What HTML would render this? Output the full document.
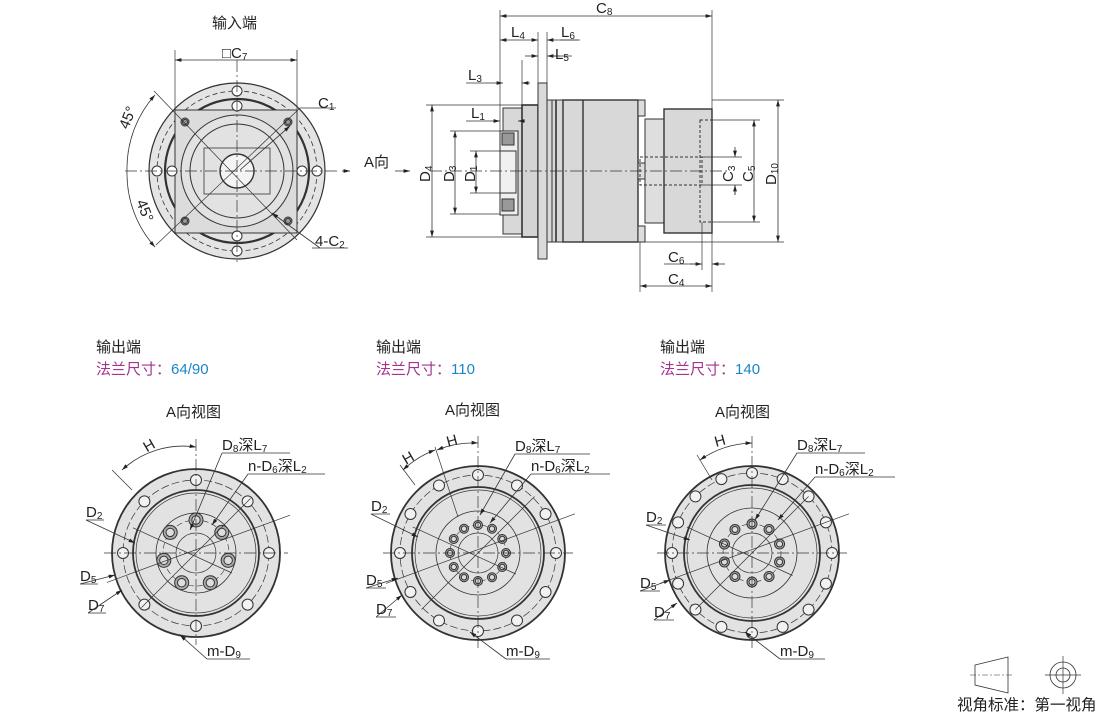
<!DOCTYPE html>
<html><head><meta charset="utf-8"><style>
html,body{margin:0;padding:0;background:#fff;width:1110px;height:714px;overflow:hidden}
svg text{font-family:"Liberation Sans","Noto Sans CJK SC",sans-serif;fill:#222}
</style></head><body>
<svg id="s" width="1110" height="714" viewBox="0 0 1110 714" xmlns="http://www.w3.org/2000/svg">
<defs>
<marker id="a" viewBox="0 0 10 6" refX="10" refY="3" markerWidth="8" markerHeight="5" orient="auto-start-reverse"><path d="M0,0L10,3L0,6z" fill="#222"/></marker>
</defs>
<g id="g" stroke="#333" fill="none" stroke-width="1"></g>
<text x="212" y="28" font-size="15">输入端</text>
<text x="222" y="58" font-size="15">□C<tspan font-size="10" dy="2">7</tspan></text>
<text x="318" y="108" font-size="15">C<tspan font-size="10" dy="2">1</tspan></text>
<text x="315" y="246" font-size="15">4-C<tspan font-size="10" dy="2">2</tspan></text>
<text x="128" y="130" font-size="15" transform="rotate(-68 128 130)">45°</text>
<text x="136" y="202" font-size="15" transform="rotate(68 136 202)">45°</text>
<text x="364" y="167" font-size="15">A向</text>
<text x="596" y="13" font-size="15">C<tspan font-size="10" dy="2">8</tspan></text>
<text x="511" y="37" font-size="15">L<tspan font-size="10" dy="2">4</tspan></text>
<text x="561" y="37" font-size="15">L<tspan font-size="10" dy="2">6</tspan></text>
<text x="555" y="59" font-size="15">L<tspan font-size="10" dy="2">5</tspan></text>
<text x="468" y="80" font-size="15">L<tspan font-size="10" dy="2">3</tspan></text>
<text x="471" y="118" font-size="15">L<tspan font-size="10" dy="2">1</tspan></text>
<text x="0" y="0" font-size="15" transform="translate(430 182) rotate(-90)">D<tspan font-size="10" dy="2">4</tspan></text>
<text x="0" y="0" font-size="15" transform="translate(454 182) rotate(-90)">D<tspan font-size="10" dy="2">3</tspan></text>
<text x="0" y="0" font-size="15" transform="translate(475 182) rotate(-90)">D<tspan font-size="10" dy="2">1</tspan></text>
<text x="0" y="0" font-size="15" transform="translate(733 182) rotate(-90)">C<tspan font-size="10" dy="2">3</tspan></text>
<text x="0" y="0" font-size="15" transform="translate(753 182) rotate(-90)">C<tspan font-size="10" dy="2">5</tspan></text>
<text x="0" y="0" font-size="15" transform="translate(776 185) rotate(-90)">D<tspan font-size="10" dy="2">10</tspan></text>
<text x="668" y="262" font-size="15">C<tspan font-size="10" dy="2">6</tspan></text>
<text x="668" y="284" font-size="15">C<tspan font-size="10" dy="2">4</tspan></text>

<text x="96" y="352" font-size="15">输出端</text>
<text x="96" y="374" font-size="15" style="fill:#a3338c">法兰尺寸：<tspan style="fill:#1a86c8">64/90</tspan></text>
<text x="376" y="352" font-size="15">输出端</text>
<text x="376" y="374" font-size="15" style="fill:#a3338c">法兰尺寸：<tspan style="fill:#1a86c8">110</tspan></text>
<text x="660" y="352" font-size="15">输出端</text>
<text x="660" y="374" font-size="15" style="fill:#a3338c">法兰尺寸：<tspan style="fill:#1a86c8">140</tspan></text>
<text x="166" y="417" font-size="15">A向视图</text>
<text x="445" y="415" font-size="15">A向视图</text>
<text x="715" y="417" font-size="15">A向视图</text>

<text x="1" y="0" font-size="15" transform="translate(146 453) rotate(-30)">H</text>
<text x="222" y="450" font-size="15">D<tspan font-size="10" dy="2">8</tspan><tspan dy="-2">深L</tspan><tspan font-size="10" dy="2">7</tspan></text>
<text x="248" y="471" font-size="15">n-D<tspan font-size="10" dy="2">6</tspan><tspan dy="-2">深L</tspan><tspan font-size="10" dy="2">2</tspan></text>
<text x="86" y="517" font-size="15">D<tspan font-size="10" dy="2">2</tspan></text>
<text x="80" y="581" font-size="15">D<tspan font-size="10" dy="2">5</tspan></text>
<text x="88" y="610" font-size="15">D<tspan font-size="10" dy="2">7</tspan></text>
<text x="207" y="656" font-size="15">m-D<tspan font-size="10" dy="2">9</tspan></text>

<text x="0" y="0" font-size="15" transform="translate(406 465) rotate(-30)">H</text>
<text x="0" y="0" font-size="15" transform="translate(448 447) rotate(-15)">H</text>
<text x="515" y="451" font-size="15">D<tspan font-size="10" dy="2">8</tspan><tspan dy="-2">深L</tspan><tspan font-size="10" dy="2">7</tspan></text>
<text x="531" y="471" font-size="15">n-D<tspan font-size="10" dy="2">6</tspan><tspan dy="-2">深L</tspan><tspan font-size="10" dy="2">2</tspan></text>
<text x="371" y="511" font-size="15">D<tspan font-size="10" dy="2">2</tspan></text>
<text x="366" y="585" font-size="15">D<tspan font-size="10" dy="2">5</tspan></text>
<text x="376" y="614" font-size="15">D<tspan font-size="10" dy="2">7</tspan></text>
<text x="506" y="656" font-size="15">m-D<tspan font-size="10" dy="2">9</tspan></text>

<text x="0" y="0" font-size="15" transform="translate(716 447) rotate(-15)">H</text>
<text x="797" y="450" font-size="15">D<tspan font-size="10" dy="2">8</tspan><tspan dy="-2">深L</tspan><tspan font-size="10" dy="2">7</tspan></text>
<text x="815" y="474" font-size="15">n-D<tspan font-size="10" dy="2">6</tspan><tspan dy="-2">深L</tspan><tspan font-size="10" dy="2">2</tspan></text>
<text x="646" y="522" font-size="15">D<tspan font-size="10" dy="2">2</tspan></text>
<text x="640" y="588" font-size="15">D<tspan font-size="10" dy="2">5</tspan></text>
<text x="654" y="617" font-size="15">D<tspan font-size="10" dy="2">7</tspan></text>
<text x="780" y="656" font-size="15">m-D<tspan font-size="10" dy="2">9</tspan></text>

<text x="957" y="710" font-size="15.5">视角标准：第一视角</text>
</svg>
<script>
var g=document.getElementById('g'),NS='http://www.w3.org/2000/svg';
function el(t,a){var e=document.createElementNS(NS,t);for(var k in a)e.setAttribute(k,a[k]);g.appendChild(e);return e}
function L(x1,y1,x2,y2,o){o=o||{};o.x1=x1;o.y1=y1;o.x2=x2;o.y2=y2;return el('line',o)}
function C(cx,cy,r,o){o=o||{};o.cx=cx;o.cy=cy;o.r=r;return el('circle',o)}
function R(x,y,w,h,o){o=o||{};o.x=x;o.y=y;o.width=w;o.height=h;return el('rect',o)}
var DD='12 3 2 3',DASH='5 3';
function dim(x1,y1,x2,y2){L(x1,y1,x2,y2,{'marker-start':'url(#a)','marker-end':'url(#a)','stroke-width':0.8})}
function arr(x1,y1,x2,y2){L(x1,y1,x2,y2,{'marker-end':'url(#a)','stroke-width':0.8})}
function thin(x1,y1,x2,y2){L(x1,y1,x2,y2,{'stroke-width':0.7})}

var cx=237,cy=171;
C(cx,cy,88,{fill:'#e4e4e4','stroke-width':1.2});
C(cx,cy,80,{'stroke-dasharray':DASH,'stroke-width':0.8});
C(cx,cy,72,{'stroke-width':2.2});
R(175,110,122,123,{fill:'#dcdcdc','stroke-width':1});
C(cx,cy,56,{fill:'#e2e2e2'});C(cx,cy,47);
R(204,148,66,46,{'stroke-width':0.8});
C(cx,cy,17,{fill:'#f4f4f4','stroke-width':1.4});
[[185,122],[288,122],[185,221],[288,221]].forEach(function(p){C(p[0],p[1],4,{fill:'#999'});C(p[0],p[1],2.5)});
[[cx,cy-80],[cx,cy+80],[cx-80,cy],[cx+80,cy]].forEach(function(p){C(p[0],p[1],5,{fill:'#fff'})});
[[cx,cy-65],[cx,cy+65],[cx-65,cy],[cx+65,cy]].forEach(function(p){C(p[0],p[1],5,{fill:'#fff'})});
L(125,cy,340,cy,{'stroke-dasharray':DD,'stroke-width':0.7});L(cx,60,cx,262,{'stroke-dasharray':DD,'stroke-width':0.7});
thin(175,50,175,110);thin(297,50,297,110);dim(175,60,297,60);
thin(154,91,297,240);thin(156,245,300,108);L(300,108,336,108,{'stroke-width':0.7});
arr(240,170,290,126);arr(320,248,272,213);L(312,248,348,248,{'stroke-width':0.7});
el('path',{d:'M155,95 A110,110 0 0 0 127,171 A110,110 0 0 0 155,247','stroke-width':0.8,'marker-start':'url(#a)','marker-end':'url(#a)'});
arr(342,171,350,171);arr(395,171,410,171);

var dy=171;
R(503,108,19,126,{fill:'#d8d8d8'});
R(522,105,16,132,{fill:'#d4d4d4','stroke-width':1.6});
R(538,83,9,176,{fill:'#dadada'});
R(547,100,16,142,{fill:'#d8d8d8'});L(552,100,552,242);L(556,100,556,242,{'stroke-width':1.6});
R(563,100,75,142,{fill:'#d8d8d8','stroke-width':1.4});L(583,100,583,242,{'stroke-width':1.4});
R(638,100,7,16,{fill:'#ddd'});R(638,226,7,16,{fill:'#ddd'});R(638,163,7,16,{fill:'#ddd'});
R(645,119,19,104,{fill:'#dedede'});
R(664,109,48,124,{fill:'#d8d8d8','stroke-width':1.4});
R(700,120,12,102,{'stroke-dasharray':'3 2'});R(640,157,62,28,{'stroke-dasharray':'3 2'});
R(500,131,18,84,{fill:'#eee'});R(500,151,16,42,{fill:'#f0f0f0'});
R(502,133,12,12,{fill:'#999'});R(502,199,12,12,{fill:'#999'});
L(430,dy,730,dy,{'stroke-dasharray':DD,'stroke-width':0.7});
thin(500,10,500,131);thin(712,10,712,109);dim(500,16,712,16);
thin(538,32,538,83);thin(547,32,547,83);dim(500,40,538,40);arr(578,40,547,40);L(560,40,580,40,{'stroke-width':0.7});
arr(560,56,547,56);arr(525,56,538,56);L(547,56,572,56,{'stroke-width':0.7});
thin(522,60,522,105);arr(490,83,503,83);arr(530,83,522,83);L(466,83,490,83,{'stroke-width':0.7});
arr(490,121,500,121);arr(525,121,518,121);L(466,121,490,121,{'stroke-width':0.7});
thin(426,105,522,105);thin(426,237,522,237);dim(432,105,432,237);
thin(450,131,500,131);thin(450,214,500,214);dim(455,131,455,214);
thin(470,151,500,151);thin(470,193,500,193);dim(476,151,476,193);
thin(712,120,760,120);thin(712,222,760,222);dim(754,120,754,222);
thin(700,157,742,157);thin(700,185,742,185);arr(735,147,735,157);arr(735,195,735,185);L(735,185,735,195,{'stroke-width':0.7});
thin(712,100,784,100);thin(645,242,784,242);dim(778,100,778,242);
thin(640,242,640,292);thin(712,233,712,292);thin(702,222,702,270);
arr(690,264,702,264);arr(725,264,712,264);L(664,264,702,264,{'stroke-width':0.7});
dim(640,286,712,286);

function view(cx,cy,R0,nb,rb,rin,rmid,nh,rh,hr,rhub){
 C(cx,cy,R0,{fill:'#e2e2e2','stroke-width':1.8});
 C(cx,cy,rb,{'stroke-dasharray':'8 3','stroke-width':0.7});
 C(cx,cy,rin,{'stroke-width':1.8});C(cx,cy,rin-3,{'stroke-width':0.7});
 C(cx,cy,rmid,{'stroke-width':0.8});
 C(cx,cy,rh,{'stroke-dasharray':'6 3','stroke-width':0.6});
 C(cx,cy,rhub,{'stroke-width':0.7});
 for(var i=0;i<nb;i++){var t=i*2*Math.PI/nb;C(cx+rb*Math.sin(t),cy-rb*Math.cos(t),5.5,{fill:'#f2f2f2'});}
 for(var i=0;i<nh;i++){var t=i*2*Math.PI/nh;var x=cx+rh*Math.sin(t),y=cy-rh*Math.cos(t);C(x,y,hr,{fill:'#aaa'});C(x,y,hr*0.6,{fill:'#ddd'});}
 L(cx-R0-8,cy,cx+R0+8,cy,{'stroke-dasharray':DD,'stroke-width':0.7});
 L(cx,cy-R0-30,cx,cy+R0+8,{'stroke-dasharray':DD,'stroke-width':0.7});
 thin(cx-R0-5,cy+R0*0.35,cx+R0+10,cy-R0*0.45);thin(cx-R0*0.65,cy+R0*0.65,cx+R0*0.65,cy-R0*0.65);
 thin(cx-R0*0.75,cy-R0*0.3,cx+rmid*0.9,cy+rmid*0.5);
}
view(196,553,84,8,73,63,40,7,33,7,20);
view(478,553,87,12,78,66,42,12,28,4.5,20);
view(752,553,87,16,80,68,45,10,29,5,20);
function ld(x1,y1,x2,y2,x3){arr(x1,y1,x2,y2);L(x1,y1,x3,y1,{'stroke-width':0.7})}
ld(222,453,190,530,290);ld(248,474,212,525,325);
ld(86,520,135,543,104);ld(80,584,115,575,98);ld(88,613,122,590,106);
ld(207,659,180,635,250);
ld(515,454,480,515,590);ld(531,474,490,523,610);
ld(371,514,418,537,390);ld(366,588,398,578,386);ld(376,617,402,595,396);
ld(506,659,470,632,550);
ld(797,453,755,520,865);ld(815,477,778,520,895);
ld(646,525,690,540,666);ld(640,591,670,580,660);ld(654,620,677,603,674);
ld(780,659,745,632,825);
el('path',{d:'M122,470 A90,90 0 0 1 196,447',stroke:'#333','stroke-width':0.8,'marker-start':'url(#a)','marker-end':'url(#a)'});
thin(112,470,132,490);
el('path',{d:'M403,470 A95,95 0 0 1 435,450',stroke:'#333','stroke-width':0.8,'marker-start':'url(#a)','marker-end':'url(#a)'});
el('path',{d:'M437,450 A95,95 0 0 1 478,443',stroke:'#333','stroke-width':0.8,'marker-start':'url(#a)','marker-end':'url(#a)'});
thin(400,465,415,485);thin(435,447,458,517);
el('path',{d:'M700,460 A95,95 0 0 1 752,443',stroke:'#333','stroke-width':0.8,'marker-start':'url(#a)','marker-end':'url(#a)'});
thin(697,455,712,480);
el('path',{d:'M975,665 L1008,657 L1008,693 L975,685 Z','stroke-width':0.8});
L(970,675,1014,675,{'stroke-dasharray':'6 2 2 2','stroke-width':0.6});
C(1063,675,13,{'stroke-width':0.8});C(1063,675,7,{'stroke-width':0.8});
thin(1045,675,1081,675);thin(1063,656,1063,694);
</script>
</body></html>
